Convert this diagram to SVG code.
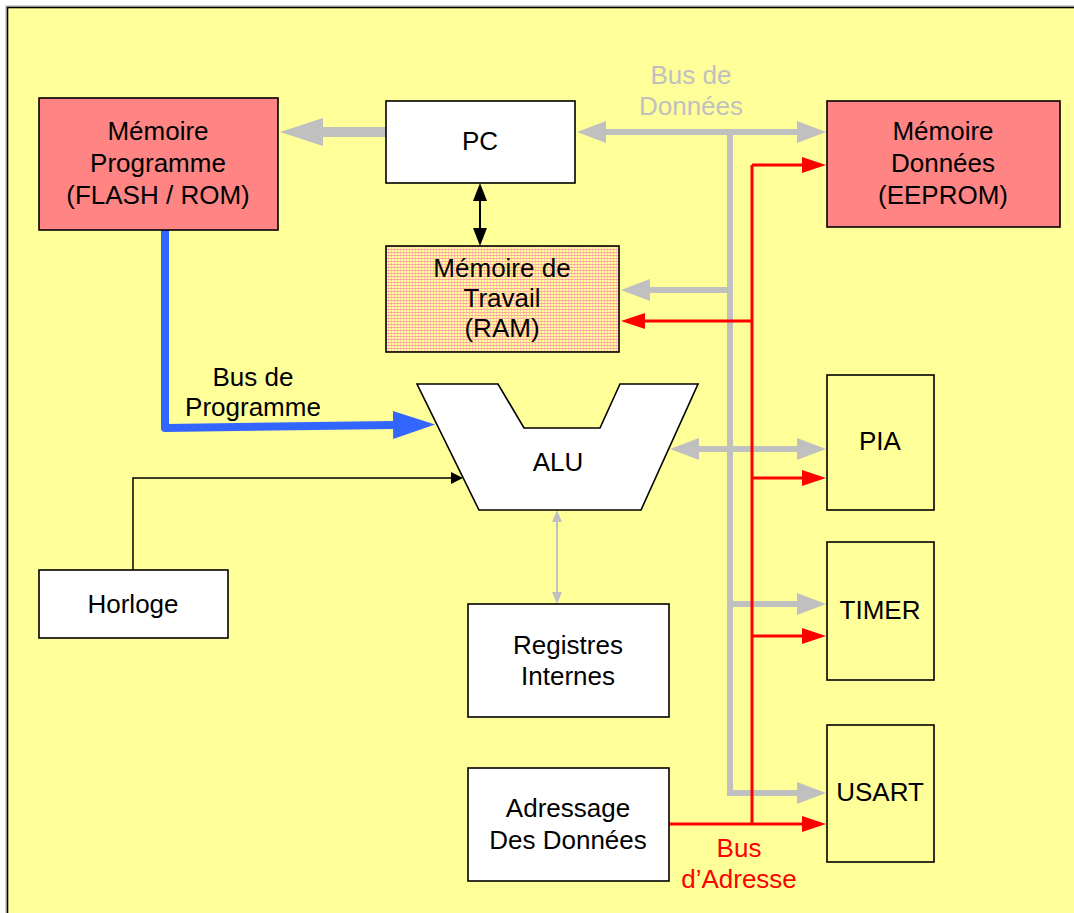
<svg xmlns="http://www.w3.org/2000/svg" width="1074" height="913" viewBox="0 0 1074 913">
<defs>
<pattern id="ramPat" width="3" height="3" patternUnits="userSpaceOnUse">
<rect width="3" height="3" fill="#ffff99"/>
<rect width="3" height="1" fill="#ffa8a0"/>
<rect x="1" y="1" width="1" height="2" fill="#ffc8b0"/>
</pattern>
<marker id="mgBig" viewBox="0 0 43 28" refX="0" refY="14" markerWidth="43" markerHeight="28" markerUnits="userSpaceOnUse" orient="auto-start-reverse"><path d="M0,0 L43,14 L0,28 z" fill="#c0c0c0"/></marker>
<marker id="mg" viewBox="0 0 29 22" refX="0" refY="11" markerWidth="29" markerHeight="22" markerUnits="userSpaceOnUse" orient="auto-start-reverse"><path d="M0,0 L29,11 L0,22 z" fill="#c0c0c0"/></marker>
<marker id="mgs" viewBox="0 0 12 10" refX="0" refY="5" markerWidth="12" markerHeight="10" markerUnits="userSpaceOnUse" orient="auto-start-reverse"><path d="M0,0 L12,5 L0,10 z" fill="#c0c0c0"/></marker>
<marker id="mr" viewBox="0 0 24 16" refX="0" refY="8" markerWidth="24" markerHeight="16" markerUnits="userSpaceOnUse" orient="auto-start-reverse"><path d="M0,0 L24,8 L0,16 z" fill="#ff0000"/></marker>
<marker id="mb" viewBox="0 0 42 28" refX="0" refY="14" markerWidth="42" markerHeight="28" markerUnits="userSpaceOnUse" orient="auto-start-reverse"><path d="M0,0 L42,14 L0,28 z" fill="#3366ff"/></marker>
<marker id="mk" viewBox="0 0 18 14" refX="0" refY="7" markerWidth="18" markerHeight="14" markerUnits="userSpaceOnUse" orient="auto-start-reverse"><path d="M0,0 L18,7 L0,14 z" fill="#000"/></marker>
<marker id="mks" viewBox="0 0 12 12" refX="0" refY="6" markerWidth="12" markerHeight="12" markerUnits="userSpaceOnUse" orient="auto-start-reverse"><path d="M0,0 L12,6 L0,12 z" fill="#000"/></marker>
</defs>
<style>
.box{stroke:#000;stroke-width:1.6;fill:#fff}
.rom{fill:#ff8585}
.t{font-family:"Liberation Sans",Arial,sans-serif;font-size:26px;text-anchor:middle;fill:#000}
.tg{fill:#c0c0c0}
.tr{fill:#ff0000}
.gb{stroke:#c0c0c0;stroke-width:6;fill:none}
.rb{stroke:#ff0000;stroke-width:3;fill:none}
</style>
<rect x="6" y="6" width="1090" height="930" fill="none" stroke="#a0a0a0" stroke-width="1"/>
<rect x="7.5" y="7.5" width="1090" height="930" fill="#ffff99" stroke="#000" stroke-width="1.6"/>

<g id="connectors">
<path d="M388,132 H323" stroke="#c0c0c0" stroke-width="10" stroke-linecap="round" fill="none" marker-end="url(#mgBig)"/>
<path class="gb" d="M606,132 H797" marker-start="url(#mg)" marker-end="url(#mg)"/>
<path class="gb" d="M730,132 V793 H797" marker-end="url(#mg)"/>
<path class="gb" d="M730,290 H650" marker-end="url(#mg)"/>
<path class="gb" d="M699,449 H797" marker-start="url(#mg)" marker-end="url(#mg)"/>
<path class="gb" d="M730,604 H797" marker-end="url(#mg)"/>
<path class="rb" d="M752,165 V824"/>
<path class="rb" d="M752,165 H802" marker-end="url(#mr)"/>
<path class="rb" d="M752,321 H645" marker-end="url(#mr)"/>
<path class="rb" d="M752,478 H802" marker-end="url(#mr)"/>
<path class="rb" d="M752,636 H802" marker-end="url(#mr)"/>
<path class="rb" d="M669,824 H802" marker-end="url(#mr)"/>
<path d="M480,201 V228" stroke="#000" stroke-width="2" fill="none" marker-start="url(#mk)" marker-end="url(#mk)"/>
<path d="M165,230 V428 L393,425" stroke="#3366ff" stroke-width="8" stroke-linejoin="round" stroke-linecap="round" fill="none" marker-end="url(#mb)"/>
<path d="M133,570 V478 H451" stroke="#000" stroke-width="1.5" fill="none" marker-end="url(#mks)"/>
<path d="M557,522 V592" stroke="#c0c0c0" stroke-width="2" fill="none" marker-start="url(#mgs)" marker-end="url(#mgs)"/>
</g>

<g id="rom">
<rect class="box rom" x="39" y="98" width="239" height="132"/>
<text class="t" x="158" y="140">Mémoire</text>
<text class="t" x="158" y="172">Programme</text>
<text class="t" x="158" y="204">(FLASH / ROM)</text>
</g>
<g id="pc">
<rect class="box" x="386" y="101" width="189" height="82"/>
<text class="t" x="480" y="150">PC</text>
</g>
<g id="eeprom">
<rect class="box rom" x="827" y="101" width="233" height="126"/>
<text class="t" x="943" y="140">Mémoire</text>
<text class="t" x="943" y="172">Données</text>
<text class="t" x="943" y="204">(EEPROM)</text>
</g>
<g id="ram">
<rect class="box" x="386" y="246" width="233" height="106" style="fill:url(#ramPat)"/>
<text class="t" x="502" y="277">Mémoire de</text>
<text class="t" x="502" y="307">Travail</text>
<text class="t" x="502" y="337">(RAM)</text>
</g>
<g id="alu">
<polygon class="box" points="417,384 498,384 524,428 600,428 620,384 698,384 641,510 479,510"/>
<text class="t" x="558" y="471">ALU</text>
</g>
<g id="pia">
<rect class="box" x="827" y="375" width="107" height="135" style="fill:none"/>
<text class="t" x="880" y="450">PIA</text>
</g>
<g id="timer">
<rect class="box" x="827" y="542" width="107" height="138" style="fill:none"/>
<text class="t" x="880" y="619">TIMER</text>
</g>
<g id="usart">
<rect class="box" x="827" y="725" width="107" height="137" style="fill:none"/>
<text class="t" x="880" y="801">USART</text>
</g>
<g id="horloge">
<rect class="box" x="39" y="570" width="189" height="68"/>
<text class="t" x="133" y="613">Horloge</text>
</g>
<g id="registres">
<rect class="box" x="468" y="604" width="201" height="113"/>
<text class="t" x="568" y="654">Registres</text>
<text class="t" x="568" y="685">Internes</text>
</g>
<g id="adressage">
<rect class="box" x="468" y="768" width="201" height="113"/>
<text class="t" x="568" y="817">Adressage</text>
<text class="t" x="568" y="849">Des Données</text>
</g>
<g id="labels">
<text class="t tg" x="691" y="84">Bus de</text>
<text class="t tg" x="691" y="115">Données</text>
<text class="t" x="253" y="386">Bus de</text>
<text class="t" x="253" y="416">Programme</text>
<text class="t tr" x="739" y="857">Bus</text>
<text class="t tr" x="739" y="888">d’Adresse</text>
</g>
</svg>
